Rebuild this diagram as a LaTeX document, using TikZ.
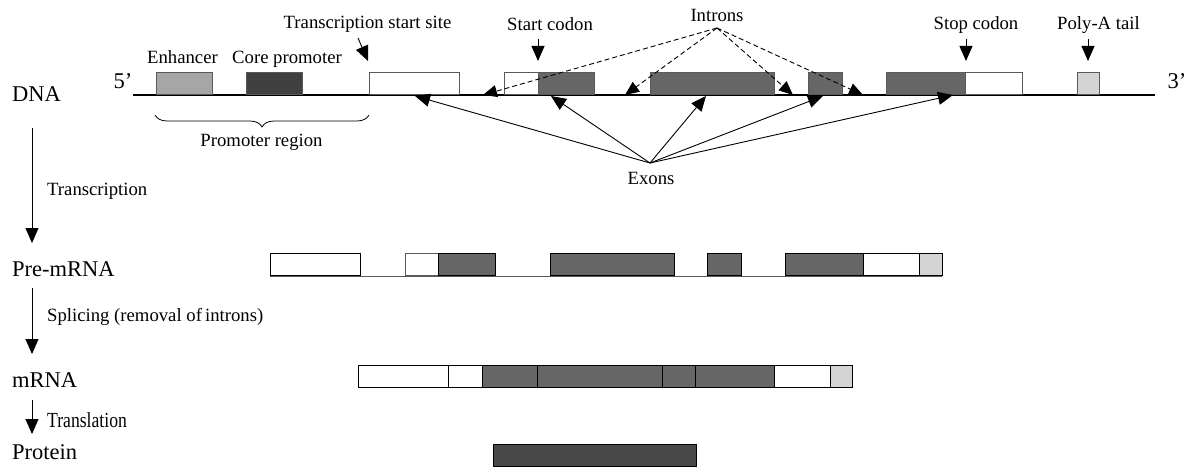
\documentclass[tikz,border=0pt]{standalone}
\usepackage{fontspec}
\setmainfont{Liberation Serif}
\usetikzlibrary{arrows.meta,decorations.pathreplacing}
\definecolor{enhgray}{HTML}{A6A6A6}
\definecolor{coregray}{HTML}{404040}
\definecolor{exongray}{HTML}{666666}
\definecolor{polygray}{HTML}{D4D4D4}
\definecolor{protgray}{HTML}{484848}
\tikzset{
  dnabox/.style={draw=black!65, line width=1pt, minimum height=22pt, inner sep=0pt, anchor=south west},
  rnabox/.style={draw=black, line width=1.3pt, minimum height=22pt, inner sep=0pt, anchor=south west},
  lbl/.style={font=\fontsize{18.7}{22}\selectfont, inner sep=0pt, anchor=base},
  biglbl/.style={font=\fontsize{22.5}{26}\selectfont, inner sep=0pt, anchor=base west},
  tri/.style={line width=0.9pt, -{Triangle[length=15pt,width=13pt]}},
  dtri/.style={line width=0.9pt, dash pattern=on 5pt off 3pt, -{Triangle[length=14pt,width=12pt]}},
}
\begin{document}
\begin{tikzpicture}[x=1pt,y=-1pt]
\useasboundingbox (0,0) rectangle (1192,468);
\fill[white] (0,0) rectangle (1192,468);

% ---------- DNA ----------
\node[biglbl] (dna) at (12,102) {DNA};
\node[biglbl, anchor=base] (five) at (123,89) {5’};
\node[biglbl, anchor=base] (three) at (1177,89) {3’};
\coordinate (dnaL) at (133,95);
\coordinate (dnaR) at (1155,95);
\draw[line width=1.3pt] (dnaL) -- (dnaR);

\node[dnabox, fill=enhgray, minimum width=56pt] (enh) at (156,95) {};
\node[dnabox, fill=coregray, minimum width=56pt] (core) at (246,95) {};
\node[dnabox, fill=white, minimum width=90pt] (tss) at (369,95) {};
\node[dnabox, fill=white, minimum width=34pt] (ex1w) at (504,95) {};
\node[dnabox, fill=exongray, minimum width=56pt] (ex1d) at (538,95) {};
\node[dnabox, fill=exongray, minimum width=124pt] (ex2) at (650,95) {};
\node[dnabox, fill=exongray, minimum width=34pt] (ex3) at (808,95) {};
\node[dnabox, fill=exongray, minimum width=79pt] (ex4d) at (886,95) {};
\node[dnabox, fill=white, minimum width=57pt] (ex4w) at (965,95) {};
\node[dnabox, fill=polygray, minimum width=22pt] (poly) at (1077,95) {};

% labels above
\node[lbl] (enhl) at (182.5,64) {Enhancer};
\node[lbl] (corel) at (287,64) {Core promoter};
\node[lbl] (tssl) at (367.5,29) {Transcription start site};
\node[lbl] (startl) at (550,31) {Start codon};
\node[lbl] (intl) at (717,21.5) {Introns};
\node[lbl] (stopl) at (976,30) {Stop codon};
\node[lbl] (polyl) at (1098.5,30) {Poly-A tail};

\coordinate (tssA) at (358,38);  \coordinate (tssB) at (368,61);
\coordinate (startA) at (538,39); \coordinate (startB) at (538,61);
\coordinate (stopA) at (966,39);  \coordinate (stopB) at (966,61);
\coordinate (polyA) at (1088,39); \coordinate (polyB) at (1088,61);
\draw[tri] (tssA) -- (tssB);
\draw[tri] (startA) -- (startB);
\draw[tri] (stopA) -- (stopB);
\draw[tri] (polyA) -- (polyB);

% introns
\coordinate (intO) at (717,28);
\coordinate (i1) at (483,95);
\coordinate (i2) at (625,95);
\coordinate (i3) at (793,95);
\coordinate (i4) at (863,95);
\foreach \t in {i1,i2,i3,i4} \draw[dtri] (intO) -- (\t);

% exons
\node[lbl] (exl) at (651,185) {Exons};
\coordinate (exO) at (650,163);
\coordinate (e1) at (415,96);
\coordinate (e2) at (551,96);
\coordinate (e3) at (706,96);
\coordinate (e4) at (823,96);
\coordinate (e5) at (953,95);
\foreach \t in {e1,e2,e3,e4,e5} \draw[tri] (exO) -- (\t);

% promoter brace
\coordinate (brR) at (369,115);
\coordinate (brL) at (155,115);
\draw[line width=0.8pt, decorate, decoration={brace, amplitude=12pt}] (brR) -- (brL);
\node[lbl] (prl) at (261.5,147) {Promoter region};

% ---------- process arrows ----------
\coordinate (a1s) at (32,128); \coordinate (a1e) at (32,243);
\coordinate (a2s) at (32,288); \coordinate (a2e) at (32,354);
\coordinate (a3s) at (32,400); \coordinate (a3e) at (32,434);
\draw[tri] (a1s) -- (a1e);
\draw[tri] (a2s) -- (a2e);
\draw[tri] (a3s) -- (a3e);
\node[lbl, anchor=base west] (trl) at (47,196) {Transcription};
\node[lbl, anchor=base west] (spl) at (47,321) {Splicing (removal of\,introns)};
\node[anchor=base west, inner sep=0pt, font=\fontsize{21.5}{24}\selectfont] (tll) at (47,427) {\scalebox{0.82}[1]{Translation}};

% ---------- Pre-mRNA ----------
\node[biglbl] (pre) at (12,276) {Pre-mRNA};
\coordinate (preL) at (270,276);
\coordinate (preR) at (942,276);
\draw[line width=1pt, black!65] (preL) -- (preR);
\node[rnabox, fill=white, minimum width=90pt] (p1) at (270,276) {};
\node[rnabox, draw=black!65, fill=white, minimum width=33pt] (p2w) at (405,276) {};
\node[rnabox, fill=exongray, minimum width=57pt] (p2d) at (438,276) {};
\node[rnabox, fill=exongray, minimum width=124pt] (p3) at (550,276) {};
\node[rnabox, fill=exongray, minimum width=34pt] (p4) at (707,276) {};
\node[rnabox, fill=exongray, minimum width=78pt] (p5d) at (785,276) {};
\node[rnabox, fill=white, minimum width=56pt] (p5w) at (863,276) {};
\node[rnabox, fill=polygray, minimum width=23pt] (p5p) at (919,276) {};

% ---------- mRNA ----------
\node[biglbl] (mrna) at (12,387) {mRNA};
\node[rnabox, fill=white, minimum width=90pt] (m1) at (358,388) {};
\node[rnabox, fill=white, minimum width=34pt] (m2) at (448,388) {};
\node[rnabox, fill=exongray, minimum width=55pt] (m3) at (482,388) {};
\node[rnabox, fill=exongray, minimum width=125pt] (m4) at (537,388) {};
\node[rnabox, fill=exongray, minimum width=33pt] (m5) at (662,388) {};
\node[rnabox, fill=exongray, minimum width=79pt] (m6) at (695,388) {};
\node[rnabox, fill=white, minimum width=56pt] (m7) at (774,388) {};
\node[rnabox, fill=polygray, minimum width=22pt] (m8) at (830,388) {};

% ---------- Protein ----------
\node[biglbl] (prot) at (12,459) {Protein};
\node[rnabox, fill=protgray, minimum width=203pt] (pr) at (493,467) {};
\end{tikzpicture}
\end{document}
